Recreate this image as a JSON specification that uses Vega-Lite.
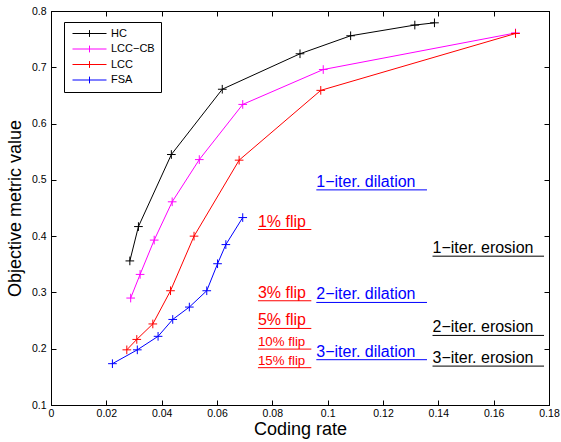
{
  "$schema": "https://vega.github.io/schema/vega-lite/v6.json",
  "width": 498,
  "height": 394,
  "autosize": {"type": "none"},
  "padding": {"left": 51, "top": 11, "right": 12, "bottom": 37},
  "background": "white",
  "config": {
    "font": "Liberation Sans",
    "view": {"stroke": "black", "strokeWidth": 1},
    "axis": {
      "domainColor": "black",
      "domainWidth": 1,
      "tickColor": "black",
      "tickSize": -5,
      "grid": false,
      "labelFont": "Liberation Sans",
      "labelFontSize": 10.5,
      "labelColor": "black",
      "titleFont": "Liberation Sans",
      "titleFontSize": 18,
      "titleFontWeight": "normal",
      "titleColor": "black"
    },
    "legend": {
      "orient": "none",
      "legendX": 13,
      "legendY": 11,
      "strokeColor": "black",
      "fillColor": "white",
      "padding": 6,
      "title": null,
      "labelFont": "Liberation Sans",
      "labelFontSize": 11,
      "labelColor": "black",
      "symbolType": "M-4,0H4M0,-0.8V0.8",
      "symbolSize": 72.25,
      "symbolStrokeWidth": 1,
      "symbolOffset": 14,
      "labelOffset": 16,
      "rowPadding": 3.5
    }
  },
  "datasets": {
    "curves": [
      {"series": "HC", "rate": 0.0285, "value": 0.356},
      {"series": "HC", "rate": 0.0316, "value": 0.417},
      {"series": "HC", "rate": 0.0435, "value": 0.545},
      {"series": "HC", "rate": 0.0619, "value": 0.661},
      {"series": "HC", "rate": 0.0900, "value": 0.724},
      {"series": "HC", "rate": 0.1083, "value": 0.756},
      {"series": "HC", "rate": 0.1315, "value": 0.775},
      {"series": "HC", "rate": 0.1386, "value": 0.779},
      {"series": "LCC−CB", "rate": 0.0288, "value": 0.290},
      {"series": "LCC−CB", "rate": 0.0322, "value": 0.332},
      {"series": "LCC−CB", "rate": 0.0373, "value": 0.393},
      {"series": "LCC−CB", "rate": 0.0438, "value": 0.461},
      {"series": "LCC−CB", "rate": 0.0536, "value": 0.536},
      {"series": "LCC−CB", "rate": 0.0693, "value": 0.634},
      {"series": "LCC−CB", "rate": 0.0984, "value": 0.696},
      {"series": "LCC−CB", "rate": 0.1679, "value": 0.761},
      {"series": "LCC", "rate": 0.0274, "value": 0.198},
      {"series": "LCC", "rate": 0.0310, "value": 0.2165},
      {"series": "LCC", "rate": 0.0368, "value": 0.244},
      {"series": "LCC", "rate": 0.0432, "value": 0.303},
      {"series": "LCC", "rate": 0.0517, "value": 0.400},
      {"series": "LCC", "rate": 0.0680, "value": 0.535},
      {"series": "LCC", "rate": 0.0975, "value": 0.659},
      {"series": "LCC", "rate": 0.1679, "value": 0.760},
      {"series": "FSA", "rate": 0.0222, "value": 0.1734},
      {"series": "FSA", "rate": 0.0312, "value": 0.198},
      {"series": "FSA", "rate": 0.0387, "value": 0.222},
      {"series": "FSA", "rate": 0.0440, "value": 0.252},
      {"series": "FSA", "rate": 0.0500, "value": 0.274},
      {"series": "FSA", "rate": 0.0563, "value": 0.303},
      {"series": "FSA", "rate": 0.0602, "value": 0.351},
      {"series": "FSA", "rate": 0.0632, "value": 0.385},
      {"series": "FSA", "rate": 0.0693, "value": 0.433}
    ],
    "notes": [
      {"label": "1−iter. dilation", "kind": "dilation", "x1": 0.0959, "x2": 0.1359, "y": 0.4822},
      {"label": "2−iter. dilation", "kind": "dilation", "x1": 0.0959, "x2": 0.1359, "y": 0.2822},
      {"label": "3−iter. dilation", "kind": "dilation", "x1": 0.0959, "x2": 0.1359, "y": 0.1805},
      {"label": "1% flip", "kind": "flip", "x1": 0.0748, "x2": 0.0941, "y": 0.4118},
      {"label": "3% flip", "kind": "flip", "x1": 0.0748, "x2": 0.0941, "y": 0.2852},
      {"label": "5% flip", "kind": "flip", "x1": 0.0748, "x2": 0.0941, "y": 0.2360},
      {"label": "10% flip", "kind": "flip", "x1": 0.0748, "x2": 0.0941, "y": 0.1993},
      {"label": "15% flip", "kind": "flip", "x1": 0.0748, "x2": 0.0941, "y": 0.1663},
      {"label": "1−iter. erosion", "kind": "erosion", "x1": 0.1379, "x2": 0.1782, "y": 0.3644},
      {"label": "2−iter. erosion", "kind": "erosion", "x1": 0.1379, "x2": 0.1782, "y": 0.2236},
      {"label": "3−iter. erosion", "kind": "erosion", "x1": 0.1379, "x2": 0.1782, "y": 0.1691}
    ]
  },
  "layer": [
    {
      "data": {"name": "curves"},
      "mark": {"type": "line", "strokeWidth": 1},
      "encoding": {
        "x": {
          "field": "rate", "type": "quantitative",
          "scale": {"domain": [0, 0.18], "nice": false, "zero": false},
          "axis": {"title": "Coding rate", "values": [0, 0.02, 0.04, 0.06, 0.08, 0.1, 0.12, 0.14, 0.16, 0.18], "format": "~g", "labelPadding": 8, "titlePadding": 2, "labelFlush": false}
        },
        "y": {
          "field": "value", "type": "quantitative",
          "scale": {"domain": [0.1, 0.8], "nice": false, "zero": false},
          "axis": {"title": "Objective metric value", "values": [0.1, 0.2, 0.3, 0.4, 0.5, 0.6, 0.7, 0.8], "format": "~g", "labelPadding": 10, "titlePadding": 7, "labelFlush": false}
        },
        "color": {
          "field": "series", "type": "nominal",
          "scale": {"domain": ["HC", "LCC−CB", "LCC", "FSA"], "range": ["#000000", "#ff00ff", "#ff0000", "#0000ff"]}
        }
      }
    },
    {
      "data": {"name": "curves"},
      "mark": {"type": "point", "opacity": 0},
      "encoding": {
        "x": {"field": "rate", "type": "quantitative", "axis": {"orient": "top", "title": null, "labels": false, "values": [0, 0.02, 0.04, 0.06, 0.08, 0.1, 0.12, 0.14, 0.16, 0.18]}},
        "y": {"field": "value", "type": "quantitative", "axis": {"orient": "right", "title": null, "labels": false, "values": [0.1, 0.2, 0.3, 0.4, 0.5, 0.6, 0.7, 0.8]}}
      }
    },
    {
      "data": {"name": "curves"},
      "mark": {"type": "point", "shape": "M-1,0H1M0,-1V1", "filled": false, "size": 75, "strokeWidth": 1, "opacity": 1},
      "encoding": {
        "x": {"field": "rate", "type": "quantitative", "axis": null},
        "y": {"field": "value", "type": "quantitative", "axis": null},
        "color": {
          "field": "series", "type": "nominal", "legend": null,
          "scale": {"domain": ["HC", "LCC−CB", "LCC", "FSA"], "range": ["#000000", "#ff00ff", "#ff0000", "#0000ff"]}
        }
      }
    },
    {
      "data": {"name": "notes"},
      "mark": {"type": "rule", "strokeWidth": 1},
      "encoding": {
        "x": {"field": "x1", "type": "quantitative", "axis": null},
        "x2": {"field": "x2"},
        "y": {"field": "y", "type": "quantitative", "axis": null},
        "color": {"field": "kind", "type": "nominal", "legend": null, "scale": {"domain": ["dilation", "flip", "erosion"], "range": ["#0000ff", "#ff0000", "#000000"]}}
      }
    },
    {
      "data": {"name": "notes"},
      "transform": [{"filter": "datum.label !== '10% flip' && datum.label !== '15% flip'"}],
      "mark": {"type": "text", "align": "left", "baseline": "alphabetic", "dy": -3, "fontSize": 16, "font": "Liberation Sans"},
      "encoding": {
        "x": {"field": "x1", "type": "quantitative", "axis": null},
        "y": {"field": "y", "type": "quantitative", "axis": null},
        "text": {"field": "label"},
        "color": {"field": "kind", "type": "nominal", "legend": null, "scale": {"domain": ["dilation", "flip", "erosion"], "range": ["#0000ff", "#ff0000", "#000000"]}}
      }
    },
    {
      "data": {"name": "notes"},
      "transform": [{"filter": "datum.label === '10% flip' || datum.label === '15% flip'"}],
      "mark": {"type": "text", "align": "left", "baseline": "alphabetic", "dy": -3, "fontSize": 13.3, "font": "Liberation Sans"},
      "encoding": {
        "x": {"field": "x1", "type": "quantitative", "axis": null},
        "y": {"field": "y", "type": "quantitative", "axis": null},
        "text": {"field": "label"},
        "color": {"field": "kind", "type": "nominal", "legend": null, "scale": {"domain": ["dilation", "flip", "erosion"], "range": ["#0000ff", "#ff0000", "#000000"]}}
      }
    }
  ],
  "resolve": {
    "scale": {"color": "independent"},
    "axis": {"x": "independent", "y": "independent"}
  }
}
